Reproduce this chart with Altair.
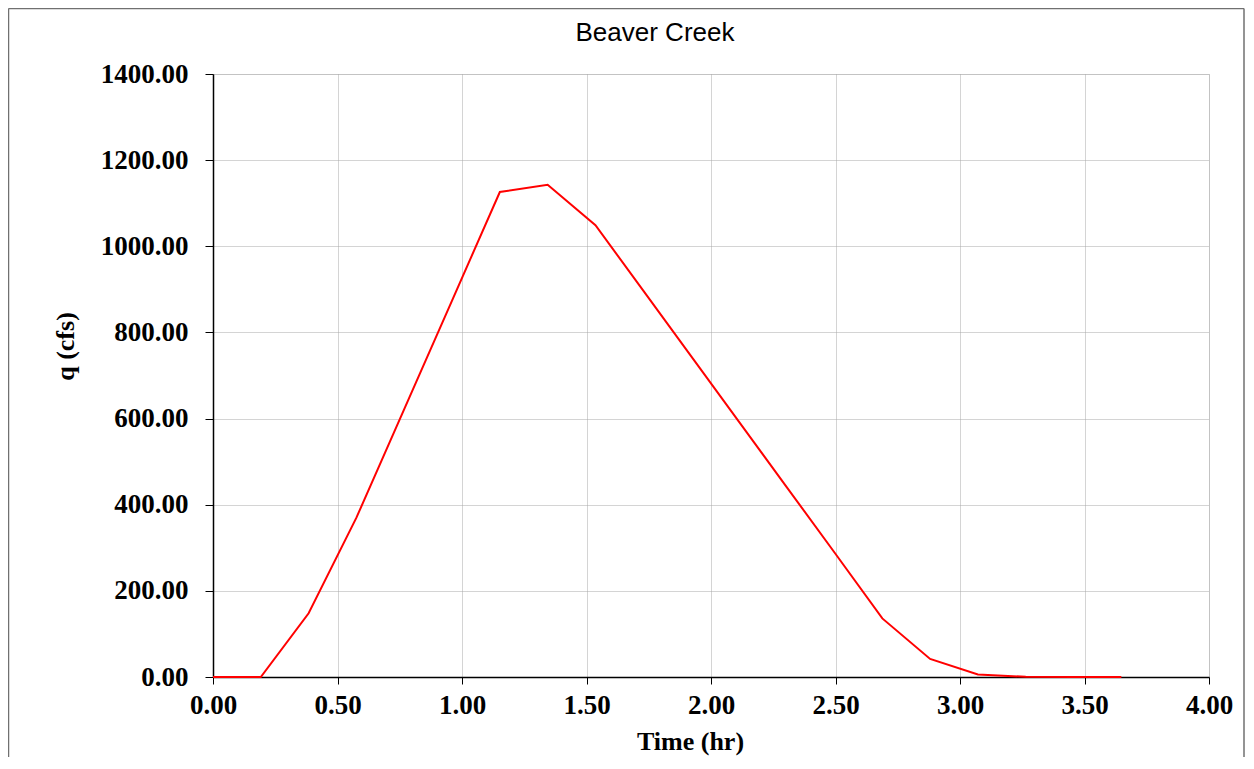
import altair as alt
import pandas as pd

chart_title = "Beaver Creek"
x_title = "Time (hr)"
y_title = "q (cfs)"

time_hr = [0.000, 0.192, 0.384, 0.576, 0.768, 0.960, 1.152, 1.344, 1.536, 1.728,
           1.920, 2.112, 2.304, 2.496, 2.688, 2.880, 3.072, 3.264, 3.456, 3.648]
q_cfs = [0, 0, 148, 370, 622, 874, 1126, 1143, 1049, 897,
         745, 593, 441, 289, 136, 42, 6, 0.5, 0, 0]

x_ticks = [0.0, 0.5, 1.0, 1.5, 2.0, 2.5, 3.0, 3.5, 4.0]
y_ticks = [0, 200, 400, 600, 800, 1000, 1200, 1400]

df = pd.DataFrame({"t": time_hr, "q": q_cfs})

W, H = 996, 603
PAD_L, PAD_T, PAD_R, PAD_B = 205, 66, 36, 80

serif = "Liberation Serif"

x_enc = alt.X(
    "t:Q",
    scale=alt.Scale(domain=[0, 4], nice=False, zero=False),
    axis=alt.Axis(
        values=x_ticks, format=".2f", title=x_title,
        labelFont=serif, labelFontSize=27, labelFontWeight="bold", labelColor="black",
        labelPadding=8, tickSize=7, tickColor="black", tickWidth=1,
        domainColor="black", domainWidth=1.5,
        grid=True, gridColor="#a8a8a8", gridDash=[1, 1], gridWidth=1,
        titleFont=serif, titleFontSize=26, titleFontWeight="bold", titleColor="black",
        titleX=477, titleY=64, titleAlign="center", titleBaseline="middle",
        labelFlush=False, labelOverlap=False,
    ),
)
y_enc = alt.Y(
    "q:Q",
    scale=alt.Scale(domain=[0, 1400], nice=False),
    axis=alt.Axis(
        values=y_ticks, format=".2f", title=y_title,
        labelFont=serif, labelFontSize=27, labelFontWeight="bold", labelColor="black",
        labelPadding=17, tickSize=8, tickColor="black", tickWidth=1,
        domainColor="black", domainWidth=1.5,
        grid=True, gridColor="#a8a8a8", gridDash=[1, 1], gridWidth=1,
        titleFont=serif, titleFontSize=26, titleFontWeight="bold", titleColor="black",
        titleX=-148, titleY=272, titleAngle=270, titleAlign="center", titleBaseline="middle",
        labelFlush=False, labelOverlap=False,
    ),
)

line = alt.Chart(df).mark_line(color="#ff0000", strokeWidth=2, clip=False).encode(x=x_enc, y=y_enc)

one = pd.DataFrame({"k": [0]})
FL, FR, FT = -204.5, 1031.0, -65.5
frame_style = dict(color="#707070", strokeWidth=1.5, clip=False)
frame_top = alt.Chart(one).mark_rule(**frame_style).encode(
    x=alt.value(FL), x2=alt.value(FR), y=alt.value(FT), y2=alt.value(FT))
frame_left = alt.Chart(one).mark_rule(**frame_style).encode(
    x=alt.value(FL), x2=alt.value(FL), y=alt.value(FT), y2=alt.value(H + PAD_B))
frame_right = alt.Chart(one).mark_rule(**frame_style).encode(
    x=alt.value(FR), x2=alt.value(FR), y=alt.value(FT), y2=alt.value(H + PAD_B))

title = alt.Chart(pd.DataFrame({"label": [chart_title]})).mark_text(
    font="Liberation Sans", fontSize=26, color="black", align="center", baseline="middle"
).encode(text="label:N", x=alt.value(442), y=alt.value(-41))

chart = alt.layer(frame_top, frame_left, frame_right, line, title).properties(
    width=W, height=H,
    autosize=alt.AutoSizeParams(type="none"),
    padding={"left": PAD_L, "top": PAD_T, "right": PAD_R, "bottom": PAD_B},
).configure_view(stroke="#808080", strokeWidth=2).configure(background="white")

chart.save("out.html", embed_options={"renderer": "svg", "actions": False})
